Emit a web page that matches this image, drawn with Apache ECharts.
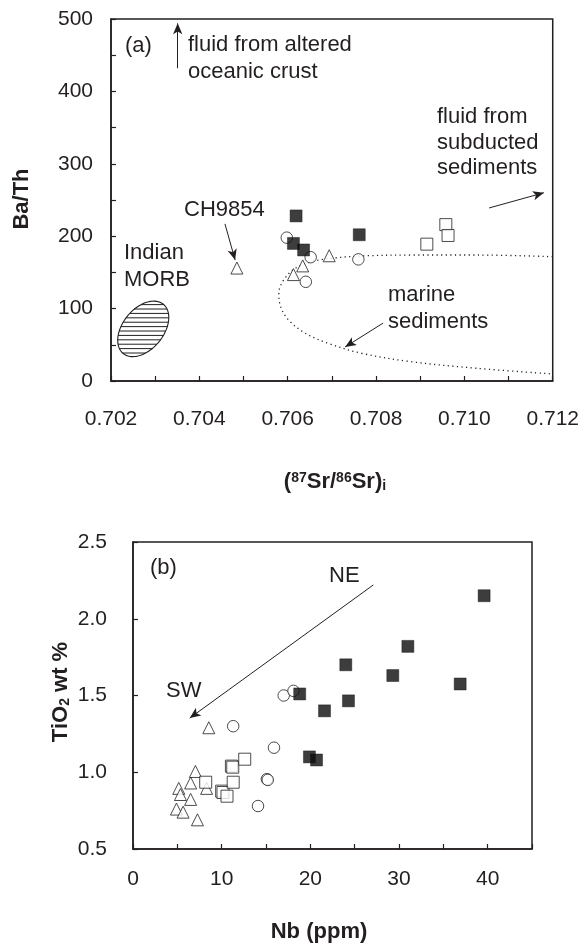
<!DOCTYPE html>
<html><head><meta charset="utf-8">
<script src="https://cdn.jsdelivr.net/npm/echarts@6/dist/echarts.min.js"></script>
<style>html,body{margin:0;padding:0;background:#fff}#c{width:582px;height:945px}</style>
</head><body><div id="c"></div>
<script>
// ---------- Panel (a): Ba/Th vs (87Sr/86Sr)i ----------
const srTickLabels = ['0.702','0.704','0.706','0.708','0.710','0.712'];
const baThTickLabels = [0,100,200,300,400,500];
const srFilledSquares = [[0.70619,228],[0.70613,190],[0.70636,181],[0.70762,202]];
const srOpenSquares = [[0.70915,189],[0.70958,216],[0.70963,201]];
const srOpenCircles = [[0.70598,198],[0.70652,171],[0.70641,137],[0.70760,168]];
const srOpenTriangles = [[0.70485,156],[0.70613,147],[0.70634,159],[0.70694,173]];
const marineSedimentsCurve = [[0.7120,171.7],[0.7103,174],[0.7088,174],[0.70767,172.7],[0.70700,169.5],[0.70655,164.8],[0.70617,155.6],[0.70591,139.5],[0.70580,121],[0.70584,102.6],[0.70602,84.3],[0.70640,65.9],[0.70692,52],[0.70767,38.3],[0.70879,26.7],[0.71029,17.5],[0.7120,9.7]];
const morbCenter = [0.70273,72];
const morbMajorEnd = [0.703185,106];
const morbMinorRatio = [0.64];
const arrowsA = [
  [[0.70351,432],[0.70351,494]],
  [[0.71056,239],[0.71180,260]],
  [[0.70458,217],[0.70481,167]],
  [[0.70816,80],[0.70730,47]]
];
// ---------- Panel (b): TiO2 vs Nb ----------
const nbTickLabels = [0,10,20,30,40];
const tiTickLabels = ['0.5','1.0','1.5','2.0','2.5'];
const nbFilledSquares = [[18.8,1.51],[24.0,1.70],[24.3,1.465],[21.6,1.40],[19.9,1.10],[20.7,1.08],[29.3,1.63],[31.0,1.82],[36.9,1.575],[39.6,2.15]];
const nbOpenSquares = [[8.2,0.935],[10.0,0.877],[10.15,0.868],[10.6,0.844],[11.3,0.935],[11.1,1.04],[11.25,1.033],[12.6,1.085]];
const nbOpenCircles = [[17.0,1.50],[18.1,1.53],[11.3,1.30],[15.9,1.16],[15.1,0.955],[15.2,0.95],[14.1,0.78]];
const nbOpenTriangles = [[8.55,1.29],[7.04,1.005],[6.5,0.93],[8.3,0.895],[5.16,0.895],[5.35,0.855],[6.5,0.823],[4.9,0.76],[5.65,0.74],[7.27,0.69]];
const arrowsB = [[[27.1,2.22],[6.4,1.353]]];

const FONT = '"Liberation Sans", Arial, Helvetica, sans-serif';
const INK = '#231f20';

const chart = echarts.init(document.getElementById('c'));

function axisCommon(extra) {
  return Object.assign({
    axisLine: {show: true, lineStyle: {color: INK, width: 1.5}},
    axisTick: {show: true, inside: true, length: 5, lineStyle: {color: INK, width: 1.2}},
    splitLine: {show: false},
    axisLabel: {color: INK, fontFamily: FONT, fontSize: 21}
  }, extra);
}
function markArrows(list) {
  return {
    silent: true, animation: false,
    symbol: ['none', 'arrow'], symbolSize: [7, 11],
    lineStyle: {color: INK, width: 1, type: 'solid'},
    label: {show: false}, emphasis: {disabled: true},
    data: list.map(a => [{coord: a[0]}, {coord: a[1]}])
  };
}
function scatter(data, kind, xi) {
  const filled = kind === 'fsq';
  const sym = {fsq: 'rect', osq: 'rect', circ: 'circle', tri: 'triangle'}[kind];
  return {
    type: 'scatter', xAxisIndex: xi, yAxisIndex: xi, data: data,
    symbol: sym, symbolSize: kind === 'circ' ? 11.5 : 12,
    itemStyle: filled ? {color: '#0d0d0d', borderColor: '#0d0d0d', borderWidth: 0.5}
                      : {color: '#fff', borderColor: INK, borderWidth: 1},
    emphasis: {disabled: true}, z: 5
  };
}

function morbRender(params, api) {
  const c = api.coord(morbCenter);
  const m = api.coord(morbMajorEnd);
  const a = Math.hypot(m[0]-c[0], m[1]-c[1]);
  const b = a * morbMinorRatio[0];
  const th = Math.atan2(m[1]-c[1], m[0]-c[0]);
  const co = Math.cos(th), si = Math.sin(th);
  const pts = [];
  for (let i = 0; i < 90; i++) {
    const t = i / 90 * Math.PI * 2;
    const u = a * Math.cos(t), v = b * Math.sin(t);
    pts.push([c[0] + u*co - v*si, c[1] + u*si + v*co]);
  }
  const children = [{type: 'polygon', shape: {points: pts}, style: {fill: '#fff', stroke: INK, lineWidth: 1.1}}];
  const hh = Math.sqrt(a*a*si*si + b*b*co*co);
  const A = co*co/(a*a) + si*si/(b*b);
  const step = 4.4;
  for (let dy = -hh + step*0.8; dy < hh - 1; dy += step) {
    const B = 2*dy*(co*si/(a*a) - si*co/(b*b));
    const C = dy*dy*(si*si/(a*a) + co*co/(b*b)) - 1;
    const disc = B*B - 4*A*C;
    if (disc <= 0) continue;
    const x1 = (-B - Math.sqrt(disc)) / (2*A), x2 = (-B + Math.sqrt(disc)) / (2*A);
    children.push({type: 'line', shape: {x1: c[0]+x1, y1: c[1]+dy, x2: c[0]+x2, y2: c[1]+dy}, style: {stroke: INK, lineWidth: 1}});
  }
  return {type: 'group', children: children};
}

function txt(x, y, text, opts) {
  return Object.assign({
    type: 'text', x: x, y: y, silent: true,
    style: Object.assign({text: text, fill: INK, font: '22px ' + FONT, textAlign: 'left', textVerticalAlign: 'middle'}, (opts && opts.style) || {})
  }, opts && opts.el || {});
}

const option = {
  animation: false,
  backgroundColor: '#fff',
  grid: [
    {left: 111, top: 19, width: 445, height: 362, show: true, borderColor: INK, borderWidth: 1.5, backgroundColor: 'transparent'},
    {left: 133, top: 542, width: 399, height: 307, show: true, borderColor: INK, borderWidth: 1.5, backgroundColor: 'transparent'}
  ],
  xAxis: [
    axisCommon({type: 'value', gridIndex: 0, min: parseFloat(srTickLabels[0]), max: parseFloat(srTickLabels[srTickLabels.length-1]), interval: 0.001,
      axisLabel: {color: INK, fontFamily: FONT, fontSize: 21, margin: 28,
        formatter: v => { const k = Math.round(v*1000); const s = (k/1000).toFixed(3); return srTickLabels.includes(s) ? s : ''; }}}),
    axisCommon({type: 'value', gridIndex: 1, min: 0, max: 45, interval: 5,
      axisLabel: {color: INK, fontFamily: FONT, fontSize: 21, margin: 20,
        formatter: v => nbTickLabels.includes(Math.round(v)) && Math.abs(v - Math.round(v)) < 1e-6 ? String(Math.round(v)) : ''}})
  ],
  yAxis: [
    axisCommon({type: 'value', gridIndex: 0, min: baThTickLabels[0], max: baThTickLabels[baThTickLabels.length-1], interval: 50,
      axisLabel: {color: INK, fontFamily: FONT, fontSize: 21, margin: 18,
        formatter: v => baThTickLabels.includes(Math.round(v)) ? String(Math.round(v)) : ''}}),
    axisCommon({type: 'value', gridIndex: 1, min: 0.5, max: 2.5, interval: 0.5,
      axisLabel: {color: INK, fontFamily: FONT, fontSize: 21, margin: 26,
        formatter: v => { const s = v.toFixed(1); return tiTickLabels.includes(s) ? s : ''; }}})
  ],
  series: [
    {type: 'custom', xAxisIndex: 0, yAxisIndex: 0, data: [morbCenter], renderItem: morbRender, silent: true, z: 2},
    {type: 'line', xAxisIndex: 0, yAxisIndex: 0, data: marineSedimentsCurve, smooth: 0.35, showSymbol: false, symbol: 'none',
      lineStyle: {color: INK, width: 1.3, type: [1.2, 3.4]}, emphasis: {disabled: true}, silent: true, z: 3,
      markLine: markArrows(arrowsA)},
    scatter(srOpenCircles, 'circ', 0),
    scatter(srOpenTriangles, 'tri', 0),
    scatter(srOpenSquares, 'osq', 0),
    scatter(srFilledSquares, 'fsq', 0),
    Object.assign(scatter(nbOpenTriangles, 'tri', 1), {markLine: markArrows(arrowsB)}),
    scatter(nbOpenCircles, 'circ', 1),
    scatter(nbOpenSquares, 'osq', 1),
    scatter(nbFilledSquares, 'fsq', 1)
  ],
  graphic: [
    txt(125, 46, '(a)'),
    txt(188, 45, 'fluid from altered'),
    txt(188, 72, 'oceanic crust'),
    txt(437, 117, 'fluid from'),
    txt(437, 143, 'subducted'),
    txt(437, 168, 'sediments'),
    txt(184, 210, 'CH9854'),
    txt(124, 253, 'Indian'),
    txt(124, 280, 'MORB'),
    txt(388, 295, 'marine'),
    txt(388, 322, 'sediments'),
    txt(150, 568, '(b)'),
    txt(329, 576, 'NE'),
    txt(166, 691, 'SW'),
    // axis titles
    txt(22, 199, 'Ba/Th', {style: {font: 'bold 22px ' + FONT, textAlign: 'center'}, el: {rotation: Math.PI/2}}),
    txt(335, 482, '({sup|87}Sr/{sup|86}Sr){sub|i}', {style: {font: 'bold 22px ' + FONT, textAlign: 'center',
      rich: {sup: {fontSize: 14, fontWeight: 'bold', fontFamily: FONT, fill: INK, verticalAlign: 'top', lineHeight: 14},
             sub: {fontSize: 14, fontWeight: 'bold', fontFamily: FONT, fill: INK, verticalAlign: 'bottom', lineHeight: 14}}}}),
    txt(61, 692, 'TiO{sub|2} wt %', {style: {font: 'bold 22px ' + FONT, textAlign: 'center',
      rich: {sub: {fontSize: 14, fontWeight: 'bold', fontFamily: FONT, fill: INK, verticalAlign: 'bottom', lineHeight: 14}}}, el: {rotation: Math.PI/2}}),
    txt(319, 932, 'Nb (ppm)', {style: {font: 'bold 22px ' + FONT, textAlign: 'center'}})
  ]
};
chart.setOption(option);
</script>
</body></html>
